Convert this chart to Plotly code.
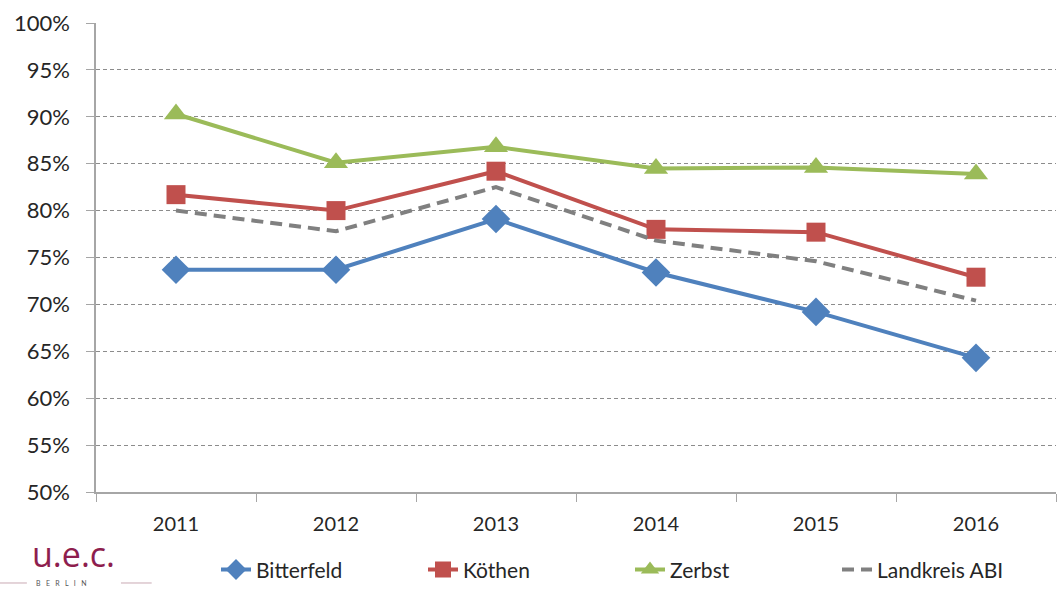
import plotly.graph_objects as go

# Share of students per year (in %)
years = ["2011", "2012", "2013", "2014", "2015", "2016"]
bitterfeld = [73.7, 73.7, 79.1, 73.4, 69.2, 64.3]
koethen = [81.7, 80.0, 84.2, 78.0, 77.7, 72.9]
zerbst = [90.3, 85.1, 86.8, 84.5, 84.6, 83.9]
landkreis = [80.0, 77.8, 82.5, 76.8, 74.6, 70.4]

y_ticks = [50, 55, 60, 65, 70, 75, 80, 85, 90, 95, 100]
y_tick_labels = [f"{v}%" for v in y_ticks]

FONT = "Lato, 'Liberation Sans', sans-serif"

fig = go.Figure()
fig.add_trace(go.Scatter(
    x=years, y=bitterfeld, name="Bitterfeld", mode="lines+markers",
    line=dict(color="#4F81BD", width=4),
    marker=dict(symbol="diamond", size=22, color="#4F81BD"),
))
fig.add_trace(go.Scatter(
    x=years, y=koethen, name="Köthen", mode="lines+markers",
    line=dict(color="#C0504D", width=4),
    marker=dict(symbol="square", size=19, color="#C0504D"),
))
fig.add_trace(go.Scatter(
    x=years, y=zerbst, name="Zerbst", mode="lines+markers",
    line=dict(color="#9BBB59", width=4),
    marker=dict(symbol="triangle-up", size=21, color="#9BBB59"),
))
fig.add_trace(go.Scatter(
    x=years, y=landkreis, name="Landkreis ABI", mode="lines",
    line=dict(color="#808080", width=4, dash="12px,7px"),
))

fig.update_layout(
    width=1060, height=590,
    margin=dict(l=96, r=4, t=23, b=98, autoexpand=False),
    paper_bgcolor="white", plot_bgcolor="white",
    font=dict(family=FONT, size=20, color="#262626"),
    showlegend=True,
    legend=dict(
        orientation="h", x=0.125, xanchor="left", y=-0.166, yanchor="middle",
        font=dict(family=FONT, size=21, color="#262626"),
        entrywidth=162, entrywidthmode="pixels",
        bgcolor="rgba(0,0,0,0)",
    ),
    xaxis=dict(
        type="category", range=[-0.5, 5.5],
        showline=True, linecolor="#A6A6A6", linewidth=1.5,
        ticks="outside", tickson="boundaries", ticklen=8, tickcolor="#A6A6A6",
        showgrid=False, tickfont=dict(size=20, color="#262626"),
        ticklabelstandoff=13,
        fixedrange=True,
    ),
    yaxis=dict(
        range=[50, 100], tickvals=y_ticks, ticktext=y_tick_labels,
        showline=True, linecolor="#A6A6A6", linewidth=1.5,
        ticks="outside", ticklen=8, tickcolor="#A6A6A6",
        showgrid=True, gridcolor="#8C8C8C", gridwidth=1, griddash="4px,3px",
        zeroline=False, tickfont=dict(size=22, color="#262626"),
        ticklabelstandoff=12,
        fixedrange=True,
    ),
)

# u.e.c. Berlin logo at the lower left
fig.add_annotation(
    xref="paper", yref="paper", x=0, y=-0.133, xanchor="left", yanchor="middle",
    xshift=-66, text="u.e.c.", showarrow=False,
    font=dict(family="'Open Sans', sans-serif", size=34, color="#8E1E4E"),
)
fig.add_annotation(
    xref="paper", yref="paper", x=0, y=-0.194, xanchor="left", yanchor="middle",
    xshift=-62, text="B   E   R   L   I   N", showarrow=False,
    font=dict(family=FONT, size=7, color="#555555"),
)
fig.add_shape(type="line", xref="paper", yref="paper", x0=-0.1, x1=-0.072,
              y0=-0.194, y1=-0.194, line=dict(color="#C9A9B4", width=1))
fig.add_shape(type="line", xref="paper", yref="paper", x0=0.026, x1=0.058,
              y0=-0.194, y1=-0.194, line=dict(color="#C9A9B4", width=1))

fig.write_html("out.html")
